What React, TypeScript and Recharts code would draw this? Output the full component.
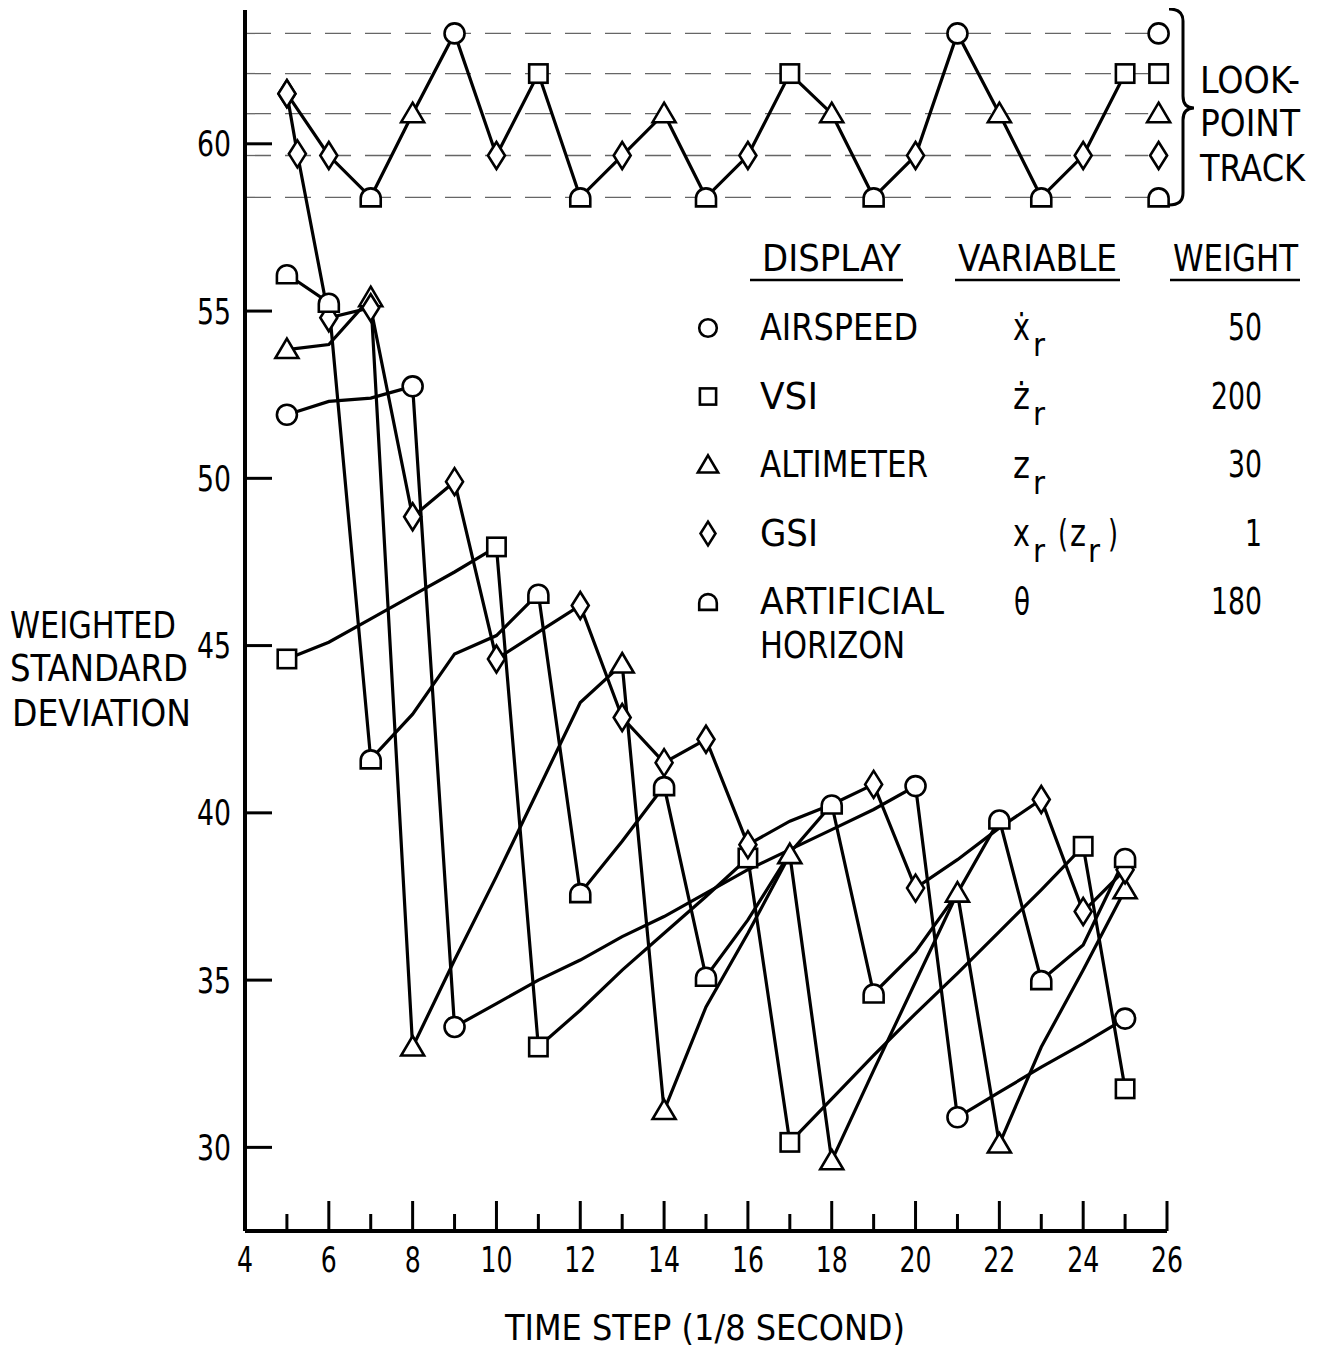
import React from 'react';
import { ComposedChart, Line, Scatter, XAxis, YAxis } from 'recharts';

const FONT = "'DejaVu Sans Condensed', 'Liberation Sans Narrow', 'DejaVu Sans', sans-serif";

// time steps (1/8 s)
const steps = [5, 6, 7, 8, 9, 10, 11, 12, 13, 14, 15, 16, 17, 18, 19, 20, 21, 22, 23, 24, 25];

// weighted standard deviations per display
const airspeedValues = [51.9, 52.3, 52.4, 52.75, 33.6, 34.3, 35.0, 35.6, 36.3, 36.9, 37.6, 38.3, 38.9, 39.5, 40.1, 40.8, 30.9, 31.65, 32.4, 33.1, 33.85];
const airspeedMarkers = [5, 8, 9, 20, 21, 25];

const vsiValues = [44.6, 45.1, 45.8, 46.5, 47.2, 47.95, 33.0, 34.1, 35.3, 36.4, 37.5, 38.65, 30.15, 31.45, 32.75, 34.0, 35.2, 36.45, 37.7, 39.0, 31.75];
const vsiMarkers = [5, 10, 11, 16, 17, 24, 25];

const altimeterValues = [53.85, 54.0, 55.4, 33.0, 35.6, 38.1, 40.7, 43.3, 44.45, 31.1, 34.2, 36.4, 38.75, 29.6, 32.3, 34.95, 37.6, 30.1, 33.0, 35.3, 37.7];
const altimeterMarkers = [5, 7, 8, 13, 14, 17, 18, 21, 22, 25];

const gsiSteps = [5, 5.25, 6, 7, 8, 9, 10, 11, 12, 13, 14, 15, 16, 17, 18, 19, 20, 21, 22, 23, 24, 25];
const gsiValues = [61.5, 59.7, 54.8, 55.1, 48.85, 49.9, 44.6, 45.4, 46.2, 42.85, 41.5, 42.2, 39.05, 39.75, 40.25, 40.85, 37.75, 38.6, 39.55, 40.4, 37.05, 38.3];
const gsiMarkers = [5, 5.25, 6, 7, 8, 9, 10, 12, 13, 14, 15, 16, 19, 20, 23, 24, 25];

const horizonValues = [56.1, 55.25, 41.6, 42.95, 44.75, 45.3, 46.55, 37.6, 39.15, 40.8, 35.1, 36.8, 38.8, 40.25, 34.6, 35.85, 37.6, 39.8, 35.0, 36.05, 38.65];
const horizonMarkers = [5, 6, 7, 11, 12, 14, 15, 18, 19, 22, 23, 25];

// look-point track
const trackLevels: Record<string, number> = { AIR: 63.3, VSI: 62.1, ALT: 60.9, GSI: 59.65, AH: 58.4 };
const trackDisplays = ['GSI', 'GSI', 'AH', 'ALT', 'AIR', 'GSI', 'VSI', 'AH', 'GSI', 'ALT', 'AH', 'GSI', 'VSI', 'ALT', 'AH', 'GSI', 'AIR', 'ALT', 'AH', 'GSI', 'VSI'];
const trackValues = [61.5, 59.65, 58.4, 60.9, 63.3, 59.65, 62.1, 58.4, 59.65, 60.9, 58.4, 59.65, 62.1, 60.9, 58.4, 59.65, 63.3, 60.9, 58.4, 59.65, 62.1];
const keyOrder = ['AIR', 'VSI', 'ALT', 'GSI', 'AH'];
const KEY_X = 25.8;
const GUIDE_END = 25.55;

const xTicks = [4, 5, 6, 7, 8, 9, 10, 11, 12, 13, 14, 15, 16, 17, 18, 19, 20, 21, 22, 23, 24, 25, 26];
const yTicks = [30, 35, 40, 45, 50, 55, 60];

const legendRows = [
  { shape: 'AIR', name: 'AIRSPEED', w: 158, weight: '50' },
  { shape: 'VSI', name: 'VSI', w: 58, weight: '200' },
  { shape: 'ALT', name: 'ALTIMETER', w: 168, weight: '30' },
  { shape: 'GSI', name: 'GSI', w: 58, weight: '1' },
  { shape: 'AH', name: 'ARTIFICIAL', w: 184, weight: '180' },
];

const build = (xs: number[], vs: number[], marks: number[]) =>
  xs.map((s, i) => ({ step: s, value: vs[i], marked: marks.includes(s) }));

const airData = build(steps, airspeedValues, airspeedMarkers);
const vsiData = build(steps, vsiValues, vsiMarkers);
const altData = build(steps, altimeterValues, altimeterMarkers);
const gsiData = build(gsiSteps, gsiValues, gsiMarkers);
const ahData = build(steps, horizonValues, horizonMarkers);
const trackData = steps.map((s, i) => ({ step: s, value: trackValues[i], shape: trackDisplays[i] }));
const keyData = keyOrder.map((k) => ({ step: KEY_X, value: trackLevels[k], shape: k }));

function Marker({ shape, cx, cy, s = 1 }: { shape: string; cx: number; cy: number; s?: number }) {
  const common = { fill: '#fff', stroke: '#000', strokeWidth: 2.6 };
  if (cx == null || cy == null) return <g />;
  switch (shape) {
    case 'AIR':
      return <circle cx={cx} cy={cy} r={10 * s} {...common} />;
    case 'VSI':
      return <rect x={cx - 9.2 * s} y={cy - 9.2 * s} width={18.4 * s} height={18.4 * s} {...common} />;
    case 'ALT':
      return <path d={`M${cx},${cy - 11 * s} L${cx + 11.5 * s},${cy + 8.5 * s} L${cx - 11.5 * s},${cy + 8.5 * s} Z`} {...common} />;
    case 'GSI':
      return <path d={`M${cx},${cy - 13.5 * s} L${cx + 8.5 * s},${cy} L${cx},${cy + 13.5 * s} L${cx - 8.5 * s},${cy} Z`} {...common} />;
    default:
      return (
        <path
          d={`M${cx - 10 * s},${cy + 9 * s} L${cx - 10 * s},${cy + 1 * s} A${10 * s},${10 * s} 0 0 1 ${cx + 10 * s},${cy + 1 * s} L${cx + 10 * s},${cy + 9 * s} Z`}
          {...common}
        />
      );
  }
}

const XTick = (props: any) => {
  const { x, y, payload } = props;
  const v = payload.value;
  const major = v % 2 === 0;
  const label = String(v);
  return (
    <g>
      {v > 4 && <line x1={x} x2={x} y1={y} y2={y - (major ? 30 : 17)} stroke="#000" strokeWidth={3} />}
      {major && (
        <text x={x} y={y + 28} dy="0.35em" textAnchor="middle" fontFamily={FONT} fontSize={36} fill="#000"
          textLength={label.length * 16} lengthAdjust="spacingAndGlyphs">
          {label}
        </text>
      )}
    </g>
  );
};

const YTick = (props: any) => {
  const { x, y, payload } = props;
  const label = String(payload.value);
  return (
    <g>
      <line x1={x} x2={x + 27} y1={y} y2={y} stroke="#000" strokeWidth={3} />
      <text x={x - 14} y={y} dy="0.35em" textAnchor="end" fontFamily={FONT} fontSize={36} fill="#000"
        textLength={34} lengthAdjust="spacingAndGlyphs">
        {label}
      </text>
    </g>
  );
};

const lineProps = { type: 'linear' as const, dataKey: 'value', stroke: '#000', strokeWidth: 3.2, dot: false, activeDot: false, isAnimationActive: false };

const T = (p: { x: number; y: number; w?: number; size?: number; anchor?: string; children: React.ReactNode }) => (
  <text x={p.x} y={p.y} dy="0.35em" fontFamily={FONT} fontSize={p.size ?? 38} fill="#000"
    textAnchor={(p.anchor as any) ?? 'start'}
    {...(p.w ? { textLength: p.w, lengthAdjust: 'spacingAndGlyphs' } : {})}>
    {p.children}
  </text>
);

export default function App() {
  return (
    <div style={{ position: 'relative', width: 1307, height: 1340 }}>
      <ComposedChart width={1307} height={1340} margin={{ top: 2, right: 148, bottom: 77, left: 157 }}>
        <XAxis type="number" dataKey="step" domain={[4, 26]} ticks={xTicks} interval={0} tickSize={0} tickMargin={0}
          height={40} axisLine={{ stroke: '#000', strokeWidth: 4 }} tickLine={false} tick={<XTick />} />
        <YAxis type="number" dataKey="value" domain={[27.5, 64]} ticks={yTicks} interval={0} tickSize={0} tickMargin={0}
          width={80} axisLine={{ stroke: '#000', strokeWidth: 4 }} tickLine={false} tick={<YTick />} />

        {keyOrder.map((k) => (
          <Line key={'guide-' + k} data={[{ step: 4, value: trackLevels[k] }, { step: GUIDE_END, value: trackLevels[k] }]}
            type="linear" dataKey="value" stroke="#666" strokeWidth={1.3} strokeDasharray="26 14"
            dot={false} activeDot={false} isAnimationActive={false} />
        ))}

        <Line data={airData} {...lineProps} />
        <Line data={vsiData} {...lineProps} />
        <Line data={altData} {...lineProps} />
        <Line data={gsiData} {...lineProps} />
        <Line data={ahData} {...lineProps} />
        <Line data={trackData} {...lineProps} />

        <Scatter data={airData.filter((d) => d.marked)} dataKey="value" isAnimationActive={false}
          shape={(p: any) => <Marker shape="AIR" cx={p.cx} cy={p.cy} />} />
        <Scatter data={vsiData.filter((d) => d.marked)} dataKey="value" isAnimationActive={false}
          shape={(p: any) => <Marker shape="VSI" cx={p.cx} cy={p.cy} />} />
        <Scatter data={altData.filter((d) => d.marked)} dataKey="value" isAnimationActive={false}
          shape={(p: any) => <Marker shape="ALT" cx={p.cx} cy={p.cy} />} />
        <Scatter data={gsiData.filter((d) => d.marked)} dataKey="value" isAnimationActive={false}
          shape={(p: any) => <Marker shape="GSI" cx={p.cx} cy={p.cy} />} />
        <Scatter data={ahData.filter((d) => d.marked)} dataKey="value" isAnimationActive={false}
          shape={(p: any) => <Marker shape="AH" cx={p.cx} cy={p.cy} />} />
        <Scatter data={trackData} dataKey="value" isAnimationActive={false}
          shape={(p: any) => <Marker shape={p.payload.shape} cx={p.cx} cy={p.cy} />} />
        <Scatter data={keyData} dataKey="value" isAnimationActive={false}
          shape={(p: any) => <Marker shape={p.payload.shape} cx={p.cx} cy={p.cy} />} />
      </ComposedChart>

      <svg width={1307} height={1340} style={{ position: 'absolute', left: 0, top: 0, pointerEvents: 'none' }}>
        {/* axis titles */}
        <T x={2} y={617} w={166}>WEIGHTED</T>
        <T x={2} y={660} w={178}>STANDARD</T>
        <T x={4} y={705} w={179}>DEVIATION</T>
        <T x={497} y={1319} w={400} size={36}>TIME STEP (1/8 SECOND)</T>

        {/* look-point track key */}
        <path d="M1161,1 Q1175,1 1175,13 L1175,88 Q1175,100 1186,100 Q1175,100 1175,112 L1175,185 Q1175,197 1161,197"
          fill="none" stroke="#000" strokeWidth={3} />
        <T x={1192} y={72} w={100}>LOOK-</T>
        <T x={1192} y={115} w={100}>POINT</T>
        <T x={1192} y={160} w={105}>TRACK</T>

        {/* legend table */}
        <T x={754} y={250} w={139}>DISPLAY</T>
        <T x={950} y={250} w={159}>VARIABLE</T>
        <T x={1165} y={250} w={125}>WEIGHT</T>
        <line x1={742} x2={895} y1={272} y2={272} stroke="#000" strokeWidth={2.5} />
        <line x1={947} x2={1112} y1={272} y2={272} stroke="#000" strokeWidth={2.5} />
        <line x1={1162} x2={1292} y1={272} y2={272} stroke="#000" strokeWidth={2.5} />

        {legendRows.map((r, i) => {
          const y = 319 + i * 68.5;
          return (
            <g key={r.name}>
              <Marker shape={r.shape} cx={700} cy={y + 1} s={0.88} />
              <T x={752} y={y} w={r.w}>{r.name}</T>
              <T x={1254} y={y} anchor="end" w={r.weight.length * 17}>{r.weight}</T>
            </g>
          );
        })}
        <T x={752} y={637} w={145}>HORIZON</T>

        {/* variables */}
        <T x={1005} y={319} w={17}>ẋ</T>
        <T x={1025} y={337} size={32} w={12}>r</T>
        <T x={1005} y={388} w={17}>ż</T>
        <T x={1025} y={406} size={32} w={12}>r</T>
        <T x={1005} y={457} w={17}>z</T>
        <T x={1025} y={475} size={32} w={12}>r</T>
        <T x={1005} y={525} w={17}>x</T>
        <T x={1025} y={543} size={32} w={12}>r</T>
        <T x={1050} y={525} w={10}>(</T>
        <T x={1062} y={525} w={16}>z</T>
        <T x={1080} y={543} size={32} w={12}>r</T>
        <T x={1100} y={525} w={10}>)</T>
        <T x={1006} y={593} w={16}>θ</T>
      </svg>
    </div>
  );
}
